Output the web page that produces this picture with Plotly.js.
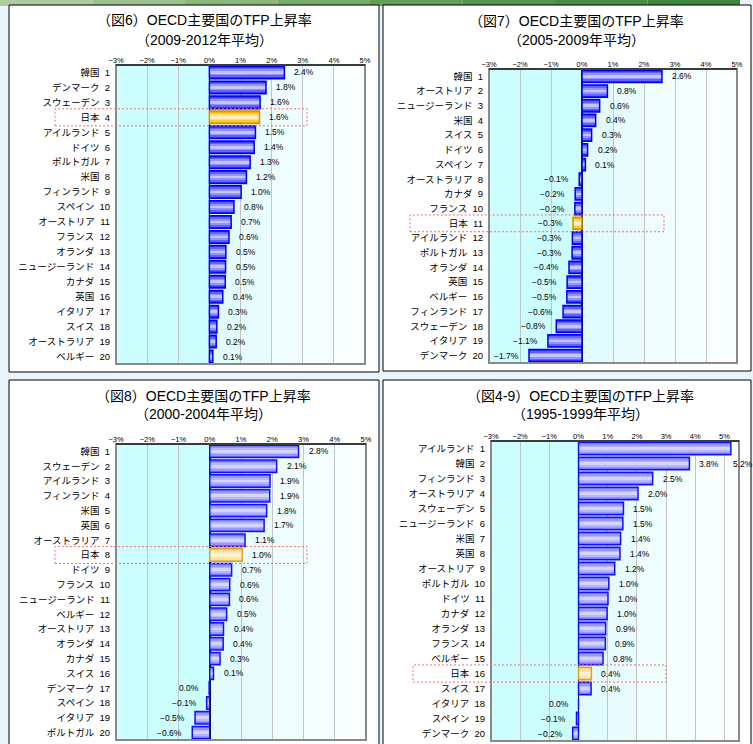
<!DOCTYPE html>
<html><head><meta charset="utf-8">
<script src="https://cdn.plot.ly/plotly-3.0.1.min.js"></script>
<style>html,body{margin:0;padding:0;background:#eaf4fb;}#chart{width:753px;height:744px;}</style>
</head><body><div id="chart"></div>
<script>
// ---------- data ----------
const titleLine1 = ['（図6）OECD主要国のTFP上昇率', '（図7）OECD主要国のTFP上昇率', '（図8）OECD主要国のTFP上昇率', '（図4-9）OECD主要国のTFP上昇率'];
const titleLine2 = ['（2009-2012年平均）', '（2005-2009年平均）', '（2000-2004年平均）', '（1995-1999年平均）'];

const countries0912 = ['韓国','デンマーク','スウェーデン','日本','アイルランド','ドイツ','ポルトガル','米国','フィンランド','スペイン','オーストリア','フランス','オランダ','ニュージーランド','カナダ','英国','イタリア','スイス','オーストラリア','ベルギー'];
const values0912 = [2.41,1.82,1.63,1.61,1.48,1.44,1.31,1.19,1.02,0.79,0.70,0.63,0.53,0.52,0.51,0.43,0.29,0.24,0.22,0.11];

const countries0509 = ['韓国','オーストリア','ニュージーランド','米国','スイス','ドイツ','スペイン','オーストラリア','カナダ','フランス','日本','アイルランド','ポルトガル','オランダ','英国','ベルギー','フィンランド','スウェーデン','イタリア','デンマーク'];
const values0509 = [2.58,0.82,0.57,0.44,0.31,0.18,0.11,-0.09,-0.22,-0.23,-0.29,-0.31,-0.32,-0.42,-0.48,-0.49,-0.61,-0.83,-1.10,-1.71];

const countries0004 = ['韓国','スウェーデン','アイルランド','フィンランド','米国','英国','オーストラリア','日本','ドイツ','フランス','ニュージーランド','ベルギー','オーストリア','オランダ','カナダ','スイス','デンマーク','スペイン','イタリア','ポルトガル'];
const values0004 = [2.84,2.14,1.93,1.92,1.82,1.74,1.13,1.04,0.70,0.64,0.63,0.54,0.44,0.43,0.33,0.12,-0.02,-0.10,-0.47,-0.56];

const countries9599 = ['アイルランド','韓国','フィンランド','オーストラリア','スウェーデン','ニュージーランド','米国','英国','オーストリア','ポルトガル','ドイツ','カナダ','オランダ','フランス','ベルギー','日本','スイス','イタリア','スペイン','デンマーク'];
const values9599 = [5.22,3.80,2.54,2.04,1.54,1.52,1.44,1.42,1.24,1.04,1.01,0.98,0.93,0.92,0.84,0.44,0.43,0.00,-0.07,-0.20];

const tickValues = [-3,-2,-1,0,1,2,3,4,5];
const tickLabels = ['\u22123%','\u22122%','\u22121%','0%','1%','2%','3%','4%','5%'];
const highlightCountry = '日本';

// ---------- geometry / style ----------
const W = 753, H = 744;
const panels = [
  {names: countries0912, vals: values0912, box:[9,5,379,372],  plot:[116,65,365,364], range:[-3,5],   tx:204, ty:[20,40],  hl:[55,307],  style:'dark'},
  {names: countries0509, vals: values0509, box:[383,5,751,371], plot:[489,69,737,363], range:[-3,5],   tx:576, ty:[21,40],  hl:[410,664], style:'dark'},
  {names: countries0004, vals: values0004, box:[9,380,379,770], plot:[116,444,366,740], range:[-3,5],  tx:203, ty:[396,414], hl:[55,307], style:'light'},
  {names: countries9599, vals: values9599, box:[383,380,751,770], plot:[491,441,739,741], range:[-3,5.5], tx:580, ty:[396,414], hl:[413,666], style:'light'}
];
const styles = {
  dark:  {fills:['#3434ff','#6262ff','#9494ff','#c4c4ff'], line:'#0000f0'},
  light: {fills:['#7676ff','#9898ff','#b6b6ff','#d4d4ff'], line:'#1010ff'},
  jp:    {fills:['#f4b400','#ffca3a','#ffdc7c','#fff0c4'], line:'#d09400'},
  jpl:   {fills:['#ffd47a','#ffe09c','#ffeabc','#fff5de'], line:'#dca030'}
};
const layerW = [0.84, 0.62, 0.40, 0.18];
const fontJP = 'Liberation Sans, Noto Sans CJK JP, sans-serif';

function fmt(v){
  if (Math.abs(v) < 0.05) return '0.0%';
  return (v < 0 ? '\u2212' : '') + Math.abs(v).toFixed(1) + '%';
}

const data = [], shapes = [], annotations = [];
const layout = {
  width: W, height: H, margin:{l:0,r:0,t:0,b:0},
  paper_bgcolor:'#eaf4fb', plot_bgcolor:'rgba(0,0,0,0)',
  barmode:'overlay', showlegend:false, bargap:0,
  font:{family: fontJP, color:'#000'}
};

// green strip at the top
const greens = ['#aecb9f','#9cc28d','#88b97b','#74ae69','#629f5a','#52954d','#468d43','#3c873b'];
greens.forEach((c,i)=>{
  shapes.push({type:'rect', xref:'paper', yref:'paper', x0:i*740/8/W, x1:(i+1)*740/8/W, y0:1-6/H, y1:1, fillcolor:c, line:{width:0}, layer:'below'});
});

panels.forEach((p, idx) => {
  const n = idx + 1;
  const xa = n === 1 ? 'x' : 'x' + n, ya = n === 1 ? 'y' : 'y' + n;
  const xk = n === 1 ? 'xaxis' : 'xaxis' + n, yk = n === 1 ? 'yaxis' : 'yaxis' + n;
  const labels = p.names.map((nm, i) => nm + '\u00a0\u00a0' + (i + 1));
  const N = labels.length;

  layout[xk] = {
    domain:[p.plot[0]/W, p.plot[2]/W], range:p.range, anchor:ya, side:'top',
    tickmode:'array', tickvals:tickValues, ticktext:tickLabels, ticks:'',
    tickfont:{size:7.5, family:'Liberation Sans', color:'#000'},
    showgrid:true, gridcolor:'#c4c4c4', gridwidth:1,
    zeroline:true, zerolinecolor:'#000', zerolinewidth:1.6, showline:false, fixedrange:true, automargin:false
  };
  layout[yk] = {
    domain:[1 - p.plot[3]/H, 1 - p.plot[1]/H], anchor:xa, type:'category',
    range:[N - 0.5, -0.5], showgrid:false, zeroline:false, ticks:'', showline:false,
    tickfont:{size:9.5, family:fontJP, color:'#000'}, ticklabelstandoff:5, fixedrange:true, automargin:false
  };

  // panel box
  shapes.push({type:'rect', xref:'paper', yref:'paper', x0:p.box[0]/W, x1:p.box[2]/W, y0:1-p.box[3]/H, y1:1-p.box[1]/H,
    fillcolor:'#ffffff', line:{color:'#000', width:1}, layer:'below'});
  // plot-area background: negative region cyan, positive region fading to white
  shapes.push({type:'rect', xref:xa, yref:ya+' domain', x0:p.range[0], x1:0, y0:0, y1:1, fillcolor:'#ccfefe', line:{width:0}, layer:'below'});
  const fades = ['#e2fbfc','#e9fcfd','#effdfd','#f4fefe','#f9feff','#fcffff'];
  for (let k = 0; k < fades.length; k++) {
    const a = k, b = Math.min(k + 1, p.range[1]);
    if (a >= p.range[1]) break;
    shapes.push({type:'rect', xref:xa, yref:ya+' domain', x0:a, x1:b, y0:0, y1:1, fillcolor:fades[k], line:{width:0}, layer:'below'});
  }
  // plot-area frame
  shapes.push({type:'rect', xref:xa+' domain', yref:ya+' domain', x0:0, x1:1, y0:0, y1:1, line:{color:'#8a8a8a', width:2}, layer:'above'});
  shapes.push({type:'line', xref:xa+' domain', yref:ya+' domain', x0:0, x1:1, y0:1, y1:1, line:{color:'#202020', width:1.5}, layer:'above'});

  // bar colours
  const styleFor = i => {
    if (p.names[i] === highlightCountry) return p.style === 'light' ? styles.jpl : styles.jp;
    return styles[p.style];
  };
  for (let L = 0; L < layerW.length; L++) {
    data.push({type:'bar', orientation:'h', x:p.vals, y:labels, xaxis:xa, yaxis:ya, width:layerW[L],
      marker:{color:p.vals.map((v,i)=>styleFor(i).fills[L]), line:{width:0}}, hoverinfo:'skip'});
  }
  data.push({type:'bar', orientation:'h', x:p.vals, y:labels, xaxis:xa, yaxis:ya, width:layerW[0],
    marker:{color:'rgba(0,0,0,0)', line:{width:1.5, color:p.vals.map((v,i)=>styleFor(i).line)}}, hoverinfo:'skip'});

  // value labels
  const ppu = (p.plot[2] - p.plot[0]) / (p.range[1] - p.range[0]);
  p.vals.forEach((v, i) => {
    if (v > 0) {
      const overflow = v + 30 / ppu > p.range[1];
      annotations.push({xref:xa, yref:ya, x:v, y: overflow ? labels[i+1] : labels[i],
        text:fmt(v), showarrow:false, xanchor:'left', xshift: overflow ? 0 : 8,
        font:{size:8.5, family:'Liberation Sans', color:'#000'}});
    } else {
      annotations.push({xref:xa, yref:ya, x:v, y:labels[i], text:fmt(v), showarrow:false, xanchor:'right', xshift:-8,
        font:{size:8.5, family:'Liberation Sans', color:'#000'}});
    }
  });

  // highlight box around Japan row
  const j = p.names.indexOf(highlightCountry);
  const fTop = (N - 0.5 - j + 0.57) / N, fBot = (N - 0.5 - j - 0.57) / N;
  shapes.push({type:'rect', xref:'paper', yref:ya+' domain', x0:p.hl[0]/W, x1:p.hl[1]/W, y0:fBot, y1:fTop,
    line:{color:'#f07070', width:1, dash:'2px,2px'}, fillcolor:'rgba(0,0,0,0)', layer:'above'});

  // titles
  annotations.push({xref:'paper', yref:'paper', x:p.tx/W, y:1-p.ty[0]/H, text:titleLine1[idx], showarrow:false,
    xanchor:'center', yanchor:'middle', font:{size:14, family:fontJP, color:'#000'}});
  annotations.push({xref:'paper', yref:'paper', x:p.tx/W, y:1-p.ty[1]/H, text:titleLine2[idx], showarrow:false,
    xanchor:'center', yanchor:'middle', font:{size:14, family:fontJP, color:'#000'}});
});

layout.shapes = shapes;
layout.annotations = annotations;
Plotly.newPlot('chart', data, layout, {displayModeBar:false, staticPlot:true});
</script>
</body></html>
